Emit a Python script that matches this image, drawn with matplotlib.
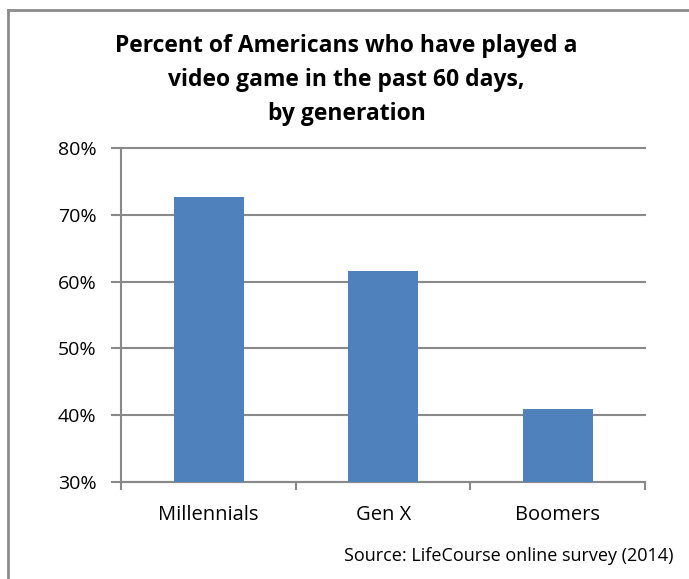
import matplotlib.pyplot as plt
import numpy as np
from matplotlib.ticker import FixedLocator, NullFormatter

# share of each generation that played a video game in the past 60 days
generations = ["Millennials", "Gen X", "Boomers"]
played_pct = [72.7, 61.6, 40.9]
y_ticks = [30, 40, 50, 60, 70, 80]

bar_color = "#4F81BD"
grid_color = "#898989"

plt.rcParams['font.family'] = ['Open Sans', 'DejaVu Sans']

fig = plt.figure(figsize=(6.89, 5.79), dpi=100)
ax = fig.add_axes([0.1763, 0.168, 0.936 - 0.1763, 0.7439 - 0.168])

x = np.arange(len(generations))
ax.bar(x, played_pct, width=0.4, color=bar_color, zorder=3)

ax.set_xlim(-0.5, len(generations) - 0.5)
ax.set_ylim(30, 80)
ax.set_yticks(y_ticks)
ax.set_yticklabels([f"{v}%" for v in y_ticks], fontsize=14)
ax.yaxis.grid(True, color=grid_color, linewidth=1.5, zorder=0)
for gl in ax.get_ygridlines():
    gl.set_clip_on(False)

# category labels sit between boundary ticks, like a spreadsheet chart
ax.set_xticks(x)
ax.set_xticklabels(generations, fontsize=14.5)
ax.tick_params(axis='x', which='major', length=0, pad=17)
ax.xaxis.set_minor_locator(FixedLocator(np.arange(-0.5, len(generations), 1.0)))
ax.xaxis.set_minor_formatter(NullFormatter())
ax.tick_params(axis='x', which='minor', length=6, width=1.5, color=grid_color)
ax.tick_params(axis='y', length=7, width=1.5, color=grid_color, pad=11)

for side in ["top", "right"]:
    ax.spines[side].set_visible(False)
for side in ["left", "bottom"]:
    ax.spines[side].set_color(grid_color)
    ax.spines[side].set_linewidth(1.5)

fig.text(0.503, 0.862, "Percent of Americans who have played a\nvideo game in the past 60 days,\nby generation",
         ha='center', va='center', fontsize=16.5, fontweight='bold', linespacing=1.55)
fig.text(0.977, 0.040, "Source: LifeCourse online survey (2014)", ha='right', va='center', fontsize=13)

# chart area frame: only the top and left edges fall inside the canvas
fig.add_artist(plt.Line2D([8 / 689, 8 / 689], [0, 1 - 10 / 579], transform=fig.transFigure,
                          color="#8c8c8c", linewidth=2))
fig.add_artist(plt.Line2D([8 / 689, 1], [1 - 10 / 579, 1 - 10 / 579], transform=fig.transFigure,
                          color="#8c8c8c", linewidth=2))

fig.savefig("out.png", dpi=100)
